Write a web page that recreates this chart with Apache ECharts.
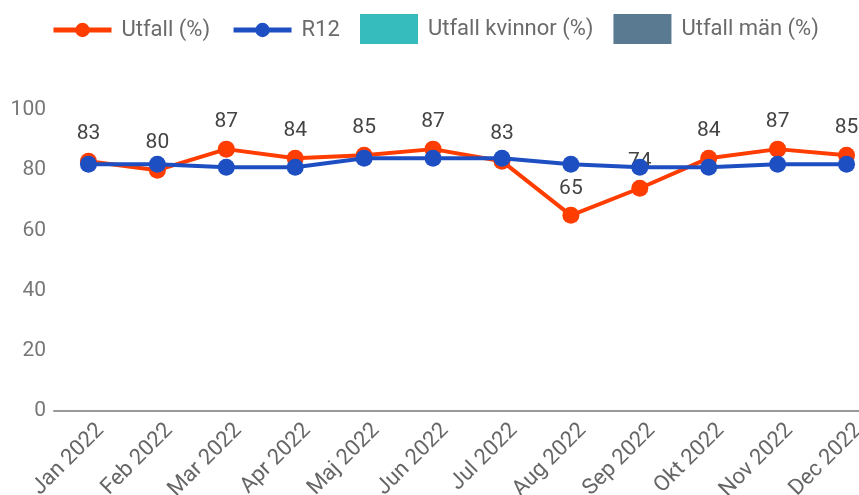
<!DOCTYPE html>
<html>
<head>
<meta charset="utf-8">
<script src="https://cdn.jsdelivr.net/npm/echarts@6/dist/echarts.min.js"></script>
<style>
  html, body { margin: 0; padding: 0; background: #fff; }
  #chart { width: 859px; height: 495px; }
</style>
</head>
<body>
<div id="chart"></div>
<script>
// months on the x axis
var categories = ['Jan 2022', 'Feb 2022', 'Mar 2022', 'Apr 2022', 'Maj 2022', 'Jun 2022',
                  'Jul 2022', 'Aug 2022', 'Sep 2022', 'Okt 2022', 'Nov 2022', 'Dec 2022'];
var utfall = [83, 80, 87, 84, 85, 87, 83, 65, 74, 84, 87, 85];
var r12 = [82, 82, 81, 81, 84, 84, 84, 82, 81, 81, 82, 82];
var yTicks = [0, 20, 40, 60, 80, 100];

var RED = '#ff3d00';
var BLUE = '#1e4fc2';
var FONT = 'Roboto, "Noto Sans", sans-serif';

var myChart = echarts.init(document.getElementById('chart'));

var option = {
    animation: false,
    textStyle: { fontFamily: FONT },
    legend: [{
        left: 46,
        top: 14,
        itemWidth: 58,
        itemHeight: 18,
        itemGap: 21,
        lineStyle: { width: 5 },
        textStyle: { fontSize: 22, color: '#6a6a6a', fontFamily: FONT, padding: [0, 0, 0, 5] },
        data: ['Utfall (%)', 'R12']
    }, {
        left: 355,
        top: 9,
        itemWidth: 58,
        itemHeight: 30,
        itemGap: 20,
        icon: 'rect',
        textStyle: { fontSize: 22, color: '#6a6a6a', fontFamily: FONT, padding: [0, 0, 0, 5] },
        data: ['Utfall kvinnor (%)', 'Utfall män (%)']
    }],
    grid: {
        left: 54,
        right: -22,
        top: 110,
        bottom: 84,
        outerBoundsMode: 'none'
    },
    xAxis: {
        type: 'category',
        data: categories,
        boundaryGap: true,
        axisLine: { lineStyle: { color: '#999', width: 2 } },
        axisTick: { show: false },
        axisLabel: {
            rotate: 45,
            interval: 0,
            margin: 4,
            verticalAlign: 'top',
            padding: [6, 0, 0, 0],
            fontSize: 22,
            color: '#666',
            fontFamily: FONT
        }
    },
    yAxis: {
        type: 'value',
        min: yTicks[0],
        max: yTicks[yTicks.length - 1],
        interval: 20,
        axisLine: { show: false },
        axisTick: { show: false },
        splitLine: { show: false },
        axisLabel: { fontSize: 21, color: '#777', margin: 8, fontFamily: FONT }
    },
    series: [{
        name: 'Utfall (%)',
        type: 'line',
        data: utfall,
        color: RED,
        symbol: 'circle',
        symbolSize: 17,
        lineStyle: { width: 4 },
        label: {
            show: true,
            position: 'top',
            distance: 8,
            fontSize: 21,
            color: '#444',
            fontFamily: FONT
        },
        z: 2
    }, {
        name: 'R12',
        type: 'line',
        data: r12,
        color: BLUE,
        symbol: 'circle',
        symbolSize: 17,
        lineStyle: { width: 4 },
        z: 3
    }, {
        name: 'Utfall kvinnor (%)',
        type: 'bar',
        data: [],
        color: '#36bcbc'
    }, {
        name: 'Utfall män (%)',
        type: 'bar',
        data: [],
        color: '#5a7a92'
    }]
};

myChart.setOption(option);
</script>
</body>
</html>
